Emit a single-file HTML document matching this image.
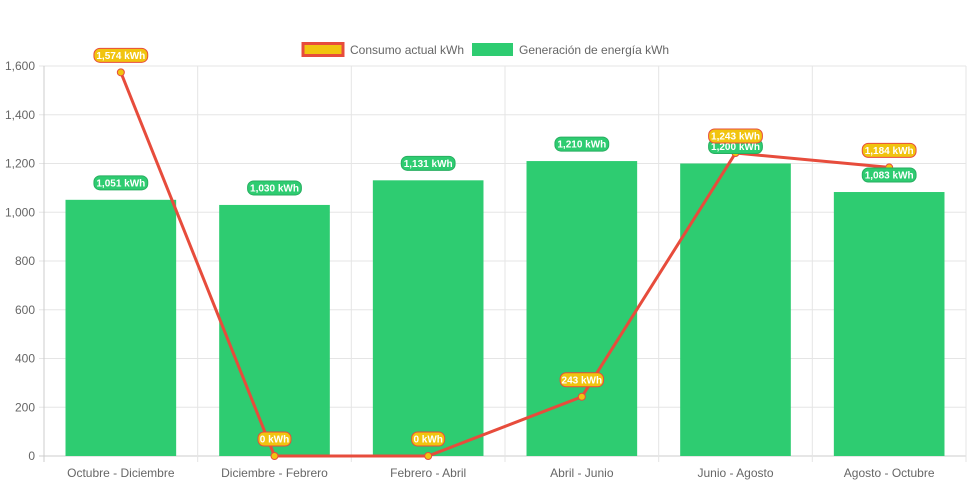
<!DOCTYPE html>
<html><head><meta charset="utf-8"><style>
body{margin:0;background:#fff;font-family:"Liberation Sans",Arial,sans-serif}
svg{display:block}
</style></head><body>
<svg id="chart" width="971" height="485">
<g>
 <g>
  <rect x="303" y="43.5" width="40" height="12" fill="#f1c40f" stroke="#e74c3c" stroke-width="3"/>
  <text x="350" y="54" font-size="12" fill="#666">Consumo actual kWh</text>
 </g>
 <g>
  <rect x="472" y="43" width="41" height="13" fill="#2ecc71"/>
  <text x="519" y="54" font-size="12" fill="#666">Generación de energía kWh</text>
 </g>
</g>
<g id="grid"></g>
<g id="bars"></g>
<g id="line"></g>
<g id="labels"></g>
</svg>
<script>
const categories=["Octubre - Diciembre","Diciembre - Febrero","Febrero - Abril","Abril - Junio","Junio - Agosto","Agosto - Octubre"];
const generation=[1051,1030,1131,1210,1200,1083];
const consumption=[1574,0,0,243,1243,1184];
const yTicks=[0,200,400,600,800,1000,1200,1400,1600];
const NS="http://www.w3.org/2000/svg";
const L=44,R=966,T=66,B=456,YMAX=1600;
const bw=(R-L)/categories.length;
function x(i){return L+bw*(i+0.5);}
function y(v){return B-(v/YMAX)*(B-T);}
function mk(tag,a,p){const e=document.createElementNS(NS,tag);for(const k in a)e.setAttribute(k,a[k]);p.appendChild(e);return e;}
const grid=document.getElementById('grid');
yTicks.forEach(t=>{
 const l=mk('line',{x1:L-5,x2:R,y1:y(t),y2:y(t),stroke:t===0?'#ccc':'#e5e5e5','stroke-width':1},grid);
 
 
 const tx=mk('text',{x:L-9,y:y(t)+4,'text-anchor':'end','font-size':12,fill:'#666'},grid);
 tx.textContent=t.toLocaleString('en-US');
 
 
});
for(let i=0;i<=categories.length;i++){
 const gx=L+bw*i;
 const l=mk('line',{x1:gx,x2:gx,y1:T,y2:B+6,stroke:i===0?'#ccc':'#e5e5e5'},grid);
 
 
}
categories.forEach((c,i)=>{
 const tx=mk('text',{x:x(i),y:477,'text-anchor':'middle','font-size':12,fill:'#666'},grid);
 tx.textContent=c;
 
 
});
const bars=document.getElementById('bars');
const barW=bw*0.72;
generation.forEach((v,i)=>{
 const r=mk('rect',{x:x(i)-barW/2,y:y(v),width:barW,height:B-y(v),fill:'#2ecc71'},bars);
 
 
});
const line=document.getElementById('line');
const pl=mk('polyline',{points:consumption.map((v,i)=>x(i)+','+y(v)).join(' '),fill:'none',stroke:'#e74c3c','stroke-width':3},line);


consumption.forEach((v,i)=>{
 const c=mk('circle',{cx:x(i),cy:y(v),r:3.5,fill:'#f1c40f',stroke:'#e74c3c','stroke-width':1},line);
 
 
});
const labels=document.getElementById('labels');
function badge(v,i,fill,stroke){
 const g=mk('g',{},labels);
 
 
 const txt=v.toLocaleString('en-US')+' kWh';
 const w=txt.length*5.2+7, cy=y(v)-17;
 mk('rect',{x:x(i)-w/2,y:cy-7,width:w,height:14,rx:6,fill:fill,stroke:stroke,'stroke-width':1},g);
 const t=mk('text',{x:x(i),y:cy+3.5,'text-anchor':'middle','font-size':10,'font-weight':'bold',fill:'#fff'},g);
 t.textContent=txt;
}
generation.forEach((v,i)=>badge(v,i,'#2ecc71','#27ae60'));
consumption.forEach((v,i)=>badge(v,i,'#f1c40f','#e74c3c'));
</script>
</body></html>
